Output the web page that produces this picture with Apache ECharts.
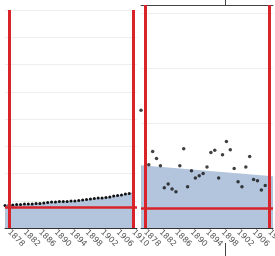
<!DOCTYPE html>
<html>
<head>
<meta charset="utf-8">
<script src="https://cdn.jsdelivr.net/npm/echarts@6/dist/echarts.min.js"></script>
<style>
  html, body { margin: 0; padding: 0; background: #fff; }
  #chart { width: 275px; height: 256px; }
</style>
</head>
<body>
<div id="chart"></div>
<script>
// left panel: steady series
let leftYears = [1877, 1878, 1879, 1880, 1881, 1882, 1883, 1884, 1885, 1886, 1887, 1888, 1889, 1890, 1891, 1892, 1893,
  1894, 1895, 1896, 1897, 1898, 1899, 1900, 1901, 1902, 1903, 1904, 1905, 1906, 1907, 1908, 1909, 1910];
let leftValues = [8.3, 8.4, 8.4, 8.6, 8.6, 8.8, 8.8, 8.8, 9.0, 9.0, 9.2, 9.4, 9.5, 9.5, 9.7, 9.7, 9.7,
  9.9, 9.9, 10.1, 10.3, 10.5, 10.6, 10.8, 11.0, 11.0, 11.2, 11.4, 11.7, 11.9, 12.1, 12.5, 12.7, 12.8];

// right panel: scattered series + trend
let rightYears = [1877, 1879, 1880, 1881, 1882, 1883, 1884, 1885, 1886, 1887, 1888, 1889, 1890, 1891, 1892, 1893,
  1894, 1895, 1896, 1897, 1898, 1899, 1900, 1901, 1902, 1903, 1904, 1905, 1906, 1907, 1908, 1909];
let rightValues = [22.4, 12.5, 14.9, 13.6, 12.3, 8.3, 9.0, 8.1, 7.6, 12.3, 15.4, 8.5, 11.4, 10.1, 10.5, 10.9,
  12.1, 14.7, 15.1, 10.1, 14.3, 16.7, 15.2, 11.8, 9.4, 8.5, 12.1, 14.0, 9.8, 9.6, 7.9, 8.7];
let trendYears = [1877, 1911];
let trendValues = [12.4, 10.4];

let tickYears = [1878, 1882, 1886, 1890, 1894, 1898, 1902, 1906, 1910];
let boundYears = [1878, 1910];
let leftLevel = 7.5;
let rightLevel = 4.65;
let markerYear = [1898.6];

const RED = "#d8232a";
const AREA = "#b3c5dd";

function pairs(xs, ys) {
  return xs.map((x, i) => [x, ys[i]]);
}

function bottomAxis(gridIndex) {
  return {
    type: "value",
    gridIndex: gridIndex,
    min: 1877,
    max: 1911,
    axisLine: { show: true, lineStyle: { color: "#333", width: 1 } },
    axisTick: { show: false },
    splitLine: { show: false },
    axisLabel: {
      customValues: tickYears,
      rotate: -45,
      margin: 3,
      fontSize: 8,
      color: "#555",
      fontFamily: "DejaVu Sans",
      formatter: (v) => String(v),
    },
  };
}

function redLines(gridIndex, level) {
  return {
    type: "line",
    xAxisIndex: gridIndex,
    yAxisIndex: gridIndex,
    data: [],
    z: 5,
    markLine: {
      silent: true,
      symbol: "none",
      label: { show: false },
      lineStyle: { color: RED, width: 3, type: "solid" },
      data: boundYears.map((y) => ({ xAxis: y })).concat([{ yAxis: level, lineStyle: { width: 2.5 } }]),
    },
  };
}

let chart = echarts.init(document.getElementById("chart"), null, { renderer: "canvas" });

let option = {
  animation: false,
  grid: [
    { left: 5, width: 132, top: 10, bottom: 28, outerBoundsMode: "none", containLabel: false },
    { left: 141, width: 132, top: 5, bottom: 28, outerBoundsMode: "none", containLabel: false },
  ],
  xAxis: [
    bottomAxis(0),
    bottomAxis(1),
    {
      type: "value",
      gridIndex: 1,
      position: "top",
      min: 1877,
      max: 1911,
      axisLine: { show: true, lineStyle: { color: "#444", width: 1 } },
      axisTick: { show: true, customValues: markerYear, length: 5, lineStyle: { color: "#444" } },
      axisLabel: { show: false },
      splitLine: { show: false },
    },
    {
      type: "value",
      gridIndex: 1,
      position: "bottom",
      offset: 15,
      min: 1877,
      max: 1911,
      axisLine: { show: false },
      axisTick: { show: true, customValues: markerYear, length: 13, lineStyle: { color: "#444" } },
      axisLabel: { show: false },
      splitLine: { show: false },
    },
  ],
  yAxis: [
    {
      type: "value",
      gridIndex: 0,
      min: 0,
      max: 80,
      interval: 10,
      axisLine: { show: false },
      axisTick: { show: false },
      axisLabel: { show: false },
      splitLine: { lineStyle: { color: "#eeeeee" } },
    },
    {
      type: "value",
      gridIndex: 1,
      min: 1,
      max: 41.5,
      axisLine: { show: false },
      axisTick: { show: false },
      axisLabel: { show: false },
      splitLine: { lineStyle: { color: "#eeeeee" } },
    },
  ],
  series: [
    {
      type: "line",
      xAxisIndex: 0,
      yAxisIndex: 0,
      data: pairs(leftYears, leftValues),
      symbol: "circle",
      symbolSize: 3,
      itemStyle: { color: "#111" },
      lineStyle: { width: 0 },
      areaStyle: { color: AREA, opacity: 1 },
      z: 2,
    },
    {
      type: "line",
      xAxisIndex: 1,
      yAxisIndex: 1,
      data: pairs(trendYears, trendValues),
      showSymbol: false,
      lineStyle: { width: 0 },
      areaStyle: { color: AREA, opacity: 1 },
      z: 2,
    },
    {
      type: "scatter",
      xAxisIndex: 1,
      yAxisIndex: 1,
      data: pairs(rightYears, rightValues),
      symbol: "circle",
      symbolSize: 3.5,
      itemStyle: { color: "#111" },
      z: 3,
    },
    redLines(0, leftLevel),
    redLines(1, rightLevel),
  ],
};

chart.setOption(option);
</script>
</body>
</html>
